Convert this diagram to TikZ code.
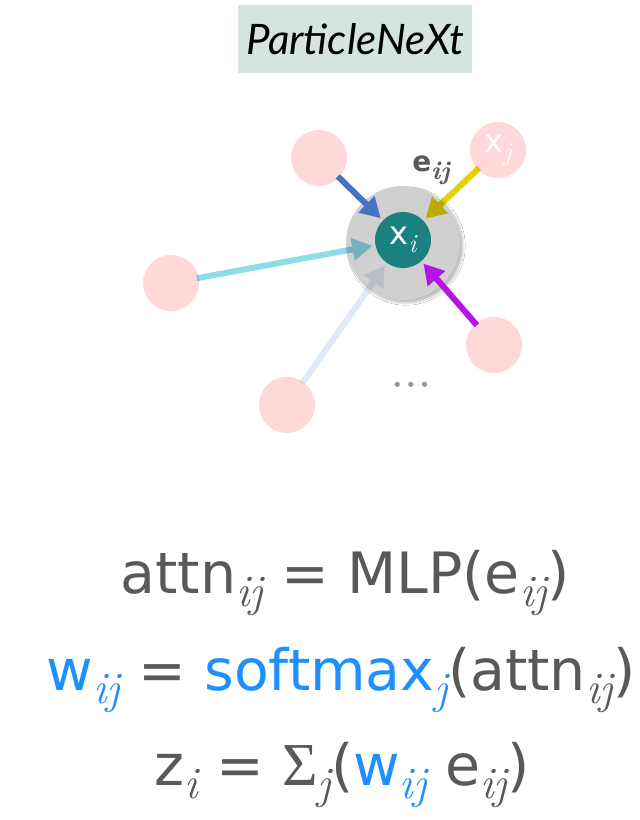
\documentclass[tikz,border=0pt]{standalone}
\usepackage{fontspec}
\setmainfont{DejaVu Sans}
\newfontfamily\titlefont{Lato}
\newfontfamily\lmr{Latin Modern Roman}
\newfontfamily\sigfont{Liberation Serif}
\usetikzlibrary{arrows.meta,shadows.blur}
\newcommand\Sub[3]{\raisebox{-#1pt}{\lmr\itshape\fontsize{#2}{#2}\selectfont #3}}
\newcommand\eqsub[1]{\Sub{13}{45}{#1}}
\newcommand\ndsub[1]{\Sub{8}{26}{#1}}
\definecolor{pinkc}{HTML}{FFD9D9}
\definecolor{tealc}{HTML}{1B8080}
\definecolor{haloc}{HTML}{D0D0D0}
\definecolor{titlebg}{HTML}{D5E5DE}
\definecolor{txtgray}{HTML}{595959}
\definecolor{txtblue}{HTML}{1E8FFF}
\definecolor{arrblue}{HTML}{4472C4}
\definecolor{arryellow}{HTML}{E6D200}
\definecolor{arrcyan}{HTML}{8FDCE8}
\definecolor{arrlight}{HTML}{E0EAF5}
\definecolor{arrpurple}{HTML}{B414E6}
\definecolor{dotgray}{HTML}{9A9A9A}
\tikzset{
  pnode/.style={circle,fill=pinkc,minimum size=56pt,inner sep=0pt,text=white,font=\fontsize{32}{34}\selectfont},
  edgearr/.style={line width=6pt,-{Triangle[length=20pt,width=22pt]},shorten >=3pt,shorten <=-2pt},
  eqn/.style={text=txtgray,font=\fontsize{57}{61}\selectfont,inner sep=0pt}
}
\begin{document}
\begin{tikzpicture}[x=1pt,y=-1pt]
\useasboundingbox[fill=white] (0,0) rectangle (640,820);
% title
\node[fill=titlebg,minimum width=234pt,minimum height=68pt,inner sep=0pt,font=\titlefont\itshape\fontsize{42}{46}\selectfont] (title) at (355,39) {ParticleNeXt};
% particles
\node[pnode] (p1) at (319,158) {};
\node[pnode] (pj) at (498,150) {x\ndsub{j}};
\node[pnode] (p3) at (171,283) {};
\node[pnode] (p4) at (494,345) {};
\node[pnode] (p5) at (287,405) {};
\node[circle,minimum size=56pt,inner sep=0pt] (xi) at (403,240) {};
% halo
\node[circle,fill=haloc,minimum size=114pt,inner sep=0pt,blur shadow={shadow xshift=3pt,shadow yshift=-3pt,shadow blur steps=8,shadow opacity=25}] (halo) at (403,243) {};
% arrows blended with halo
\begin{scope}[blend mode=multiply]
\begin{scope}[transparency group]
\draw[edgearr,arrcyan] (p3) -- (xi);
\end{scope}
\begin{scope}[transparency group]
\draw[edgearr,arrlight] (p5) -- (xi);
\end{scope}
\begin{scope}[transparency group]
\draw[edgearr,arryellow] (pj) -- (xi);
\end{scope}
\end{scope}
% arrows over halo
\draw[edgearr,arrblue] (p1) -- (xi);
\draw[edgearr,arrpurple] (p4) -- (xi);
\node[circle,fill=tealc,minimum size=56pt,inner sep=0pt,text=white,font=\fontsize{32}{34}\selectfont] (xic) at (403,240) {x\ndsub{i}};
\node[text=txtgray,font=\bfseries\fontsize{28}{30}\selectfont] (eij) at (431,170) {e\ndsub{ij}};
\node[text=dotgray,font=\fontsize{18}{20}\selectfont] (dots) at (411,387) {\textbullet\hspace{3pt}\textbullet\hspace{3pt}\textbullet};
% equations
\node[eqn] (eq1) at (345,583) {attn\eqsub{ij} = MLP(e\eqsub{ij})};
\node[eqn] (eq2) at (341,680) {\textcolor{txtblue}{w\eqsub{ij}} = \textcolor{txtblue}{softmax\eqsub{j}}(attn\eqsub{ij})};
\node[eqn] (eq3) at (342,775) {z\eqsub{i} = {\sigfont\fontsize{61}{61}\selectfont Σ}\eqsub{j}(\textcolor{txtblue}{w\eqsub{ij}} e\eqsub{ij})};
\end{tikzpicture}
\end{document}
